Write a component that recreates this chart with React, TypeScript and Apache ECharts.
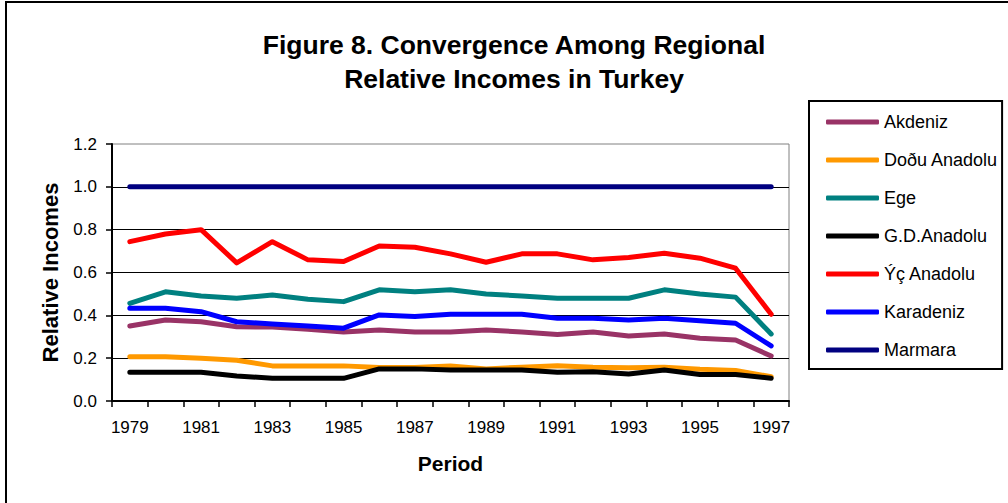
import React, { useEffect, useRef } from "react";
import * as echarts from "echarts";

const years = ["1979","1980","1981","1982","1983","1984","1985","1986","1987","1988","1989","1990","1991","1992","1993","1994","1995","1996","1997"];
const akdeniz = [0.35,0.378,0.37,0.347,0.345,0.335,0.322,0.332,0.322,0.322,0.332,0.322,0.311,0.322,0.304,0.313,0.293,0.285,0.21];
const doguAnadolu = [0.207,0.207,0.2,0.19,0.164,0.164,0.164,0.156,0.156,0.164,0.15,0.158,0.165,0.158,0.155,0.158,0.148,0.143,0.113];
const ege = [0.456,0.51,0.49,0.48,0.495,0.475,0.464,0.519,0.51,0.519,0.5,0.49,0.48,0.48,0.48,0.519,0.5,0.485,0.313];
const gdAnadolu = [0.134,0.134,0.134,0.117,0.106,0.106,0.106,0.15,0.15,0.145,0.145,0.145,0.134,0.137,0.126,0.145,0.124,0.124,0.106];
const icAnadolu = [0.744,0.78,0.8,0.645,0.744,0.659,0.651,0.724,0.718,0.687,0.648,0.687,0.687,0.659,0.67,0.69,0.667,0.62,0.405];
const karadeniz = [0.433,0.433,0.417,0.37,0.36,0.35,0.34,0.402,0.394,0.405,0.405,0.405,0.386,0.386,0.378,0.386,0.375,0.363,0.257];
const marmara = [1.0,1.0,1.0,1.0,1.0,1.0,1.0,1.0,1.0,1.0,1.0,1.0,1.0,1.0,1.0,1.0,1.0,1.0,1.0];

const seriesNames = ["Akdeniz","Doðu Anadolu","Ege","G.D.Anadolu","Ýç Anadolu","Karadeniz","Marmara"];
const seriesData = [akdeniz, doguAnadolu, ege, gdAnadolu, icAnadolu, karadeniz, marmara];
const seriesColors = ["#993366","#FF9900","#008080","#000000","#FF0000","#0000FF","#000080"];

const titleText = "Figure 8. Convergence Among Regional\nRelative Incomes in Turkey";
const FONT = '"Liberation Sans", Arial, sans-serif';

export default function App() {
  const ref = useRef<HTMLDivElement>(null);
  useEffect(() => {
    if (!ref.current) return;
    const chart = echarts.init(ref.current, null, { renderer: "svg" });
    chart.setOption({
      animation: false,
      backgroundColor: "#ffffff",
      textStyle: { fontFamily: FONT },
      graphic: [
        {
          type: "rect",
          shape: { x: 6, y: 2, width: 1100, height: 600 },
          style: { fill: "none", stroke: "#000", lineWidth: 2 },
          silent: true,
        },
        {
          type: "text",
          x: 514,
          y: 28,
          style: {
            text: titleText,
            textAlign: "center",
            textVerticalAlign: "top",
            fontFamily: FONT,
            fontSize: 26.5,
            fontWeight: "bold",
            lineHeight: 34,
            fill: "#000",
          },
        },
      ],
      legend: {
        orient: "vertical",
        left: 809,
        top: 101,
        padding: [12, 4, 10, 17],
        itemGap: 20,
        itemWidth: 53,
        itemHeight: 5,
        itemTextGap: 2,
        icon: "roundRect",
        borderColor: "#000",
        borderWidth: 2,
        textStyle: { fontSize: 18, color: "#000", fontFamily: FONT, lineHeight: 18 },
        data: seriesNames,
      },
      grid: {
        left: 112,
        right: 219,
        top: 144,
        bottom: 102,
        show: true,
        borderColor: "#808080",
        borderWidth: 1,
        backgroundColor: "#ffffff",
      },
      xAxis: {
        type: "category",
        data: years,
        boundaryGap: true,
        name: "Period",
        nameLocation: "middle",
        nameGap: 52,
        nameTextStyle: { fontSize: 21, fontWeight: "bold", color: "#000", fontFamily: FONT },
        axisLine: { lineStyle: { color: "#000", width: 2 } },
        axisTick: { show: true, interval: 0, length: 6, lineStyle: { color: "#000", width: 1.5 } },
        axisLabel: { interval: 1, fontSize: 17, color: "#000", margin: 18, fontFamily: FONT },
        splitLine: { show: false },
      },
      yAxis: {
        type: "value",
        min: 0,
        max: 1.2,
        interval: 0.2,
        name: "Relative Incomes",
        nameLocation: "middle",
        nameGap: 51,
        nameRotate: 90,
        nameTextStyle: { fontSize: 22, fontWeight: "bold", color: "#000", fontFamily: FONT },
        axisLine: { show: true, lineStyle: { color: "#000", width: 2 } },
        axisTick: { show: true, length: 6, lineStyle: { color: "#000", width: 1.5 } },
        axisLabel: {
          fontSize: 17,
          color: "#000",
          margin: 15,
          fontFamily: FONT,
          formatter: (v: number) => v.toFixed(1),
        },
        splitLine: { show: true, showMaxLine: false, lineStyle: { color: "#000", width: 1 } },
      },
      series: seriesNames.map((name, i) => ({
        name,
        type: "line",
        data: seriesData[i],
        color: seriesColors[i],
        showSymbol: false,
        symbol: "none",
        lineStyle: { width: 5, color: seriesColors[i], cap: "round", join: "round" },
      })),
    });
    return () => chart.dispose();
  }, []);
  return (
    <div
      ref={ref}
      style={{ position: "fixed", left: 0, top: 0, width: 1008, height: 503 }}
    />
  );
}
